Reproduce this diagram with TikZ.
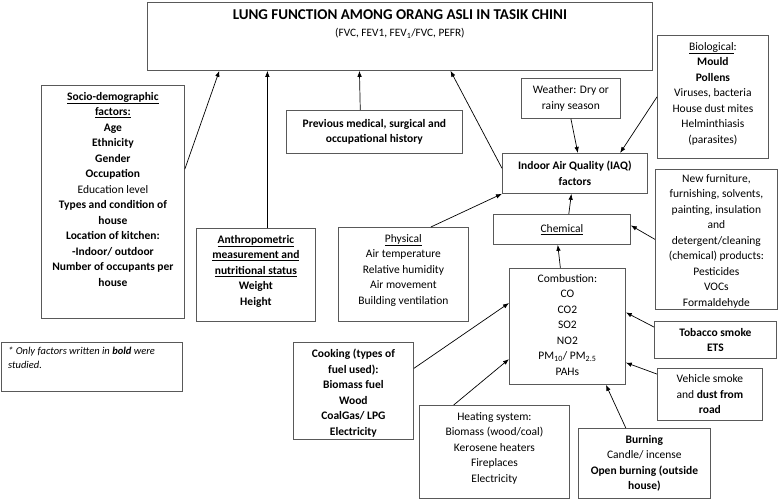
\documentclass[tikz,border=0pt]{standalone}
\usepackage{fontspec}
\setmainfont{Carlito}
\usetikzlibrary{arrows.meta, positioning, calc}
\definecolor{boxgray}{HTML}{595959}

\tikzset{
  box/.style={draw=boxgray, line width=0.8pt, anchor=north west, inner sep=2pt, align=center},
  txt/.style={inner sep=0pt, align=center},
  arr/.style={-{Latex[length=6pt, width=4.5pt]}, line width=0.7pt},
}

\begin{document}
\begin{tikzpicture}[x=1pt, y=-1pt, font=\fontsize{11.5}{15.5}\selectfont]
    \useasboundingbox (0,0) rectangle (778,500);

    \node[box, minimum width=505pt, minimum height=68pt] (main) at (147,2) {};
    \node[txt, font=\fontsize{15}{18}\selectfont\bfseries, below=7pt of main.north] (main-t)
        {LUNG FUNCTION AMONG ORANG ASLI IN TASIK CHINI};
    \node[txt, font=\fontsize{11.3}{14}\selectfont, below=9pt of main-t] (main-s)
        {(FVC, FEV1, FEV\textsubscript{1}/FVC, PEFR)};

    \node[box, minimum width=143pt, minimum height=233pt] (socio) at (41,85) {};
    \node[txt, below=7pt of socio.north] (socio-t) {%
        \textbf{\underline{Socio-demographic}}\\ \textbf{\underline{factors:}}\\
        \textbf{Age}\\ \textbf{Ethnicity}\\ \textbf{Gender}\\ \textbf{Occupation}\\
        Education level\\ \textbf{Types and condition of}\\ \textbf{house}\\
        \textbf{Location of kitchen:}\\ \textbf{-Indoor/ outdoor}\\
        \textbf{Number of occupants per}\\ \textbf{house}};

    \node[box, minimum width=119pt, minimum height=93pt] (anthro) at (196,228) {};
    \node[txt, font=\fontsize{11.5}{15.5}\selectfont\bfseries, below=7pt of anthro.north] (anthro-t) {%
        \underline{Anthropometric}\\ \underline{measurement and}\\
        \underline{nutritional status}\\ Weight\\ Height};

    \node[box, font=\fontsize{11.5}{15.5}\selectfont\bfseries, minimum width=176pt, minimum height=43pt] (prev) at (286,110)
        {Previous medical, surgical and\\ occupational history};

    \node[box, minimum width=99pt, minimum height=40pt] (weather) at (521,78)
        {Weather: Dry or\\ rainy season};

    \node[box, minimum width=111pt, minimum height=123pt] (bio) at (657,35) {};
    \node[txt, below=7pt of bio.north] (bio-t) {%
        \underline{Biological}:\\ \textbf{Mould}\\ \textbf{Pollens}\\ Viruses, bacteria\\
        House dust mites\\ Helminthiasis\\ (parasites)};

    \node[box, font=\fontsize{11.5}{15.5}\selectfont\bfseries, minimum width=145pt, minimum height=40pt] (iaq) at (502,153)
        {Indoor Air Quality (IAQ)\\ factors};

    \node[box, minimum width=137pt, minimum height=30pt] (chem) at (493,214) {\underline{Chemical}};

    \node[box, minimum width=122pt, minimum height=140pt] (furn) at (655,169) {};
    \node[txt, below=5pt of furn.north] (furn-t) {%
        New furniture,\\ furnishing, solvents,\\ painting, insulation\\ and\\
        detergent/cleaning\\ (chemical) products:\\ Pesticides\\ VOCs\\ Formaldehyde};

    \node[box, minimum width=130pt, minimum height=94pt] (phys) at (338,227) {};
    \node[txt, below=7pt of phys.north] (phys-t) {%
        \underline{Physical}\\ Air temperature\\ Relative humidity\\ Air movement\\
        Building ventilation};

    \node[box, minimum width=116pt, minimum height=116pt] (comb) at (509,268) {};
    \node[txt, below=6pt of comb.north] (comb-t) {%
        Combustion:\\ CO\\ CO2\\ SO2\\ NO2\\ PM\textsubscript{10}/ PM\textsubscript{2.5}\\ PAHs};

    \node[box, minimum width=181pt, minimum height=49pt] (note) at (1,342) {};
    \node[txt, align=left, font=\fontsize{10.5}{14}\selectfont\itshape, below right=5pt and 7pt of note.north west] (note-t)
        {* Only factors written in \textbf{bold} were\\ studied.};

    \node[box, minimum width=120pt, minimum height=97pt] (cook) at (293,342) {};
    \node[txt, font=\fontsize{11.5}{15.5}\selectfont\bfseries, below=7pt of cook.north] (cook-t) {%
        Cooking (types of\\ fuel used):\\ Biomass fuel\\ Wood\\ CoalGas/ LPG\\ Electricity};

    \node[box, font=\fontsize{11.5}{15.5}\selectfont\bfseries, minimum width=122pt, minimum height=37pt] (tob) at (654,321)
        {Tobacco smoke\\ ETS};

    \node[box, minimum width=105pt, minimum height=52pt] (veh) at (657,368)
        {Vehicle smoke\\ and \textbf{dust from}\\ \textbf{road}};

    \node[box, minimum width=150pt, minimum height=93pt] (heat) at (419,405) {};
    \node[txt, below=7pt of heat.north] (heat-t) {%
        Heating system:\\ Biomass (wood/coal)\\ Kerosene heaters\\ Fireplaces\\ Electricity};

    \node[box, minimum width=132pt, minimum height=70pt] (burn) at (578,428) {};
    \node[txt, below=7pt of burn.north] (burn-t) {%
        \textbf{Burning}\\ Candle/ incense\\ \textbf{Open burning (outside}\\ \textbf{house)}};

    \coordinate (m2) at ($(main.south west)!0.238!(main.south east)$);
    \draw[arr] ($(socio.north east)!0.36!(socio.south east)$) -- ($(main.south west)!0.143!(main.south east)$);
    \draw[arr] (anthro.north -| m2) -- (m2);
    \draw[arr] ($(prev.north west)!0.42!(prev.north east)$) -- ($(main.south west)!0.42!(main.south east)$);
    \draw[arr] ($(iaq.north west)!0.375!(iaq.south west)$) -- ($(main.south west)!0.6!(main.south east)$);

    \draw[arr] (weather.south) -- ($(iaq.north west)!0.52!(iaq.north east)$);
    \draw[arr] (bio.west) -- ($(iaq.north west)!0.81!(iaq.north east)$);
    \draw[arr] ($(chem.north west)!0.55!(chem.north east)$) -- ($(iaq.south west)!0.476!(iaq.south east)$);
    \draw[arr] ($(phys.north west)!0.71!(phys.north east)$) -- (iaq.south west);

    \draw[arr] (furn.west) -- ($(chem.north east)!0.37!(chem.south east)$);
    \draw[arr] ($(comb.north west)!0.44!(comb.north east)$) -- ($(chem.south west)!0.47!(chem.south east)$);

    \draw[arr] ($(cook.north east)!0.27!(cook.south east)$) -- ($(comb.north west)!0.3!(comb.south west)$);
    \draw[arr] ($(heat.north west)!0.23!(heat.north east)$) -- ($(comb.north west)!0.78!(comb.south west)$);
    \draw[arr] ($(burn.north west)!0.36!(burn.north east)$) -- ($(comb.south west)!0.83!(comb.south east)$);
    \draw[arr] ($(tob.north west)!0.16!(tob.south west)$) -- ($(comb.north east)!0.38!(comb.south east)$);
    \draw[arr] ($(veh.north west)!0.115!(veh.south west)$) -- ($(comb.north east)!0.81!(comb.south east)$);
\end{tikzpicture}
\end{document}
